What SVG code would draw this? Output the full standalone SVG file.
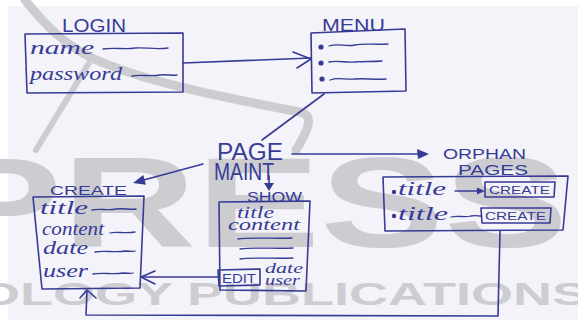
<svg xmlns="http://www.w3.org/2000/svg" width="578" height="320" viewBox="0 0 578 320">
<style>
.ink{fill:none;stroke:#363b96;stroke-width:1.6;stroke-linecap:round;stroke-linejoin:round}
.thin{fill:none;stroke:#363b96;stroke-width:1.3;stroke-linecap:round;stroke-linejoin:round}
.cap{font-family:"Liberation Sans","DejaVu Sans",sans-serif;fill:#363b96}
.hand{font-family:"Liberation Serif","DejaVu Serif",serif;font-style:italic;fill:#363b96}
.dot{fill:#363b96}
.wm{fill:#cdcdd1;font-family:"Liberation Sans","DejaVu Sans",sans-serif;font-weight:bold}
.wmline{fill:none;stroke:#cdcdd1;stroke-linecap:round}
</style>
<rect width="578" height="320" fill="#ffffff"/>
<rect x="8" y="6" width="570" height="314" fill="#f4f3f9"/>

<g id="watermark">
<path class="wmline" stroke-width="9" d="M25,0 C45,25 65,45 92,58 C140,80 210,95 300,112 C312,115 312,124 296,150"/>
<path class="wmline" stroke-width="6" d="M92,58 L36,150"/>
<text class="wm" x="-62" y="247" font-size="128" textLength="630" lengthAdjust="spacingAndGlyphs">PRESS</text>
<text class="wm" x="-22" y="305" font-size="31" textLength="610" lengthAdjust="spacingAndGlyphs">OLOGY PUBLICATIONS</text>
</g>

<g id="connectors">
<path class="ink" d="M183,63 L311,58"/>
<path class="ink" d="M293,52 L311,59 L297,68"/>
<path class="ink" d="M324,94 L262,140"/>
<path class="ink" d="M292,154 L420,154"/>
<polygon class="dot" points="429,154 417,149 418,159"/>
<path class="ink" d="M203,164 L140,181"/>
<polygon class="dot" points="133,183 143.3,175.1 145.9,184.7"/>
<path class="ink" d="M269,176 L269,184"/>
<polygon class="dot" points="269,191 264,183 274,183"/>
<path class="ink" d="M218,277 L141,277"/>
<path class="ink" d="M155,271 L141,277 L155,284"/>
<path class="ink" d="M500,231 L498,316 L86,315 L87,291"/>
<path class="ink" d="M80,298 L87,290 L96,298"/>
</g>

<g id="login">
<text class="cap" x="62" y="32" font-size="18" textLength="64" lengthAdjust="spacingAndGlyphs">LOGIN</text>
<path class="ink" d="M25,34 L183,33 L183,92 L27,93 Z"/>
<text class="hand" x="30" y="54" font-size="19" textLength="64" lengthAdjust="spacingAndGlyphs">name</text>
<path class="thin" d="M103,49 C115,47 125,50 135,48 C145,47 155,50 168,48"/>
<text class="hand" x="30" y="80" font-size="19" textLength="92" lengthAdjust="spacingAndGlyphs">password</text>
<path class="thin" d="M132,76 C142,74 150,77 160,75 C167,74 172,76 177,75"/>
</g>

<g id="menu">
<text class="cap" x="322" y="31" font-size="16" textLength="63" lengthAdjust="spacingAndGlyphs">MENU</text>
<path class="ink" d="M311,33 L405,29 L406,91 L312,93 Z"/>
<circle class="dot" cx="321" cy="47" r="2.6"/>
<circle class="dot" cx="321" cy="63" r="2.6"/>
<circle class="dot" cx="322" cy="79" r="2.6"/>
<path class="thin" d="M329,46 C338,43 345,47 355,45 C365,43 375,45 388,44"/>
<path class="thin" d="M329,62 C338,60 345,63 355,62 C365,61 372,62 382,61"/>
<path class="thin" d="M330,80 C338,77 345,80 355,79 C365,78 375,80 386,79"/>
</g>

<g id="page-maint">
<text class="cap" x="217" y="160" font-size="23" textLength="66" lengthAdjust="spacingAndGlyphs">PAGE</text>
<text class="cap" x="214" y="180" font-size="23" textLength="60" lengthAdjust="spacingAndGlyphs">MAINT</text>
</g>

<g id="create">
<text class="cap" x="50" y="195" font-size="13" textLength="77" lengthAdjust="spacingAndGlyphs">CREATE</text>
<path class="ink" d="M33,197 L144,196 L140,288 L42,289 Z"/>
<text class="hand" x="40" y="214" font-size="19" textLength="48" lengthAdjust="spacingAndGlyphs">title</text>
<path class="thin" d="M92,210 C100,208 108,211 116,209 C124,208 130,210 136,209"/>
<text class="hand" x="42" y="235" font-size="19" textLength="62" lengthAdjust="spacingAndGlyphs">content</text>
<path class="thin" d="M110,233 C117,231 124,234 135,232"/>
<text class="hand" x="43" y="254" font-size="19" textLength="45" lengthAdjust="spacingAndGlyphs">date</text>
<path class="thin" d="M95,252 C105,250 115,253 125,251 C130,251 133,252 135,251"/>
<text class="hand" x="43" y="277" font-size="19" textLength="45" lengthAdjust="spacingAndGlyphs">user</text>
<path class="thin" d="M93,274 C103,272 113,275 123,273 C128,273 131,274 133,273"/>
</g>

<g id="show">
<text class="cap" x="247" y="202" font-size="15" textLength="55" lengthAdjust="spacingAndGlyphs">SHOW</text>
<path class="ink" d="M219,202 L310,201 L306,291 L220,290 Z"/>
<text class="hand" x="237" y="218" font-size="16" textLength="37" lengthAdjust="spacingAndGlyphs">title</text>
<text class="hand" x="228" y="230" font-size="16" textLength="72" lengthAdjust="spacingAndGlyphs">content</text>
<path class="thin" d="M238,239 C255,237 275,239 292,238"/>
<path class="thin" d="M240,249 C258,247 276,249 293,248"/>
<path class="thin" d="M240,259 C258,257 276,259 293,258"/>
<path class="ink" d="M218,270 L260,269 L260,285 L219,286 Z"/>
<text class="cap" x="222" y="283" font-size="12" textLength="34" lengthAdjust="spacingAndGlyphs">EDIT</text>
<text class="hand" x="265" y="273" font-size="14" textLength="38" lengthAdjust="spacingAndGlyphs">date</text>
<text class="hand" x="265" y="285" font-size="14" textLength="35" lengthAdjust="spacingAndGlyphs">user</text>
</g>

<g id="orphan-pages">
<text class="cap" x="443" y="159" font-size="15" textLength="83" lengthAdjust="spacingAndGlyphs">ORPHAN</text>
<text class="cap" x="458" y="175" font-size="15" textLength="70" lengthAdjust="spacingAndGlyphs">PAGES</text>
<path class="ink" d="M383,177 L568,176 L563,230 L385,231 Z"/>
<circle class="dot" cx="394" cy="192" r="2.2"/>
<text class="hand" x="398" y="195" font-size="18" textLength="48" lengthAdjust="spacingAndGlyphs">title</text>
<path class="thin" d="M455,191 L478,191"/>
<polygon class="dot" points="485,191 477,187.5 477,194.5"/>
<path class="ink" d="M485,182 L555,182 L554,197 L485,197 Z"/>
<text class="cap" x="489" y="194" font-size="11.5" textLength="61" lengthAdjust="spacingAndGlyphs">CREATE</text>
<circle class="dot" cx="394" cy="216" r="2.2"/>
<text class="hand" x="398" y="220" font-size="18" textLength="50" lengthAdjust="spacingAndGlyphs">title</text>
<path class="thin" d="M451,217 C458,215 464,218 471,216 C475,215 478,216 481,216"/>
<path class="ink" d="M481,208 L551,208 L550,223 L482,223 Z"/>
<text class="cap" x="485" y="220" font-size="11.5" textLength="61" lengthAdjust="spacingAndGlyphs">CREATE</text>
</g>
</svg>
